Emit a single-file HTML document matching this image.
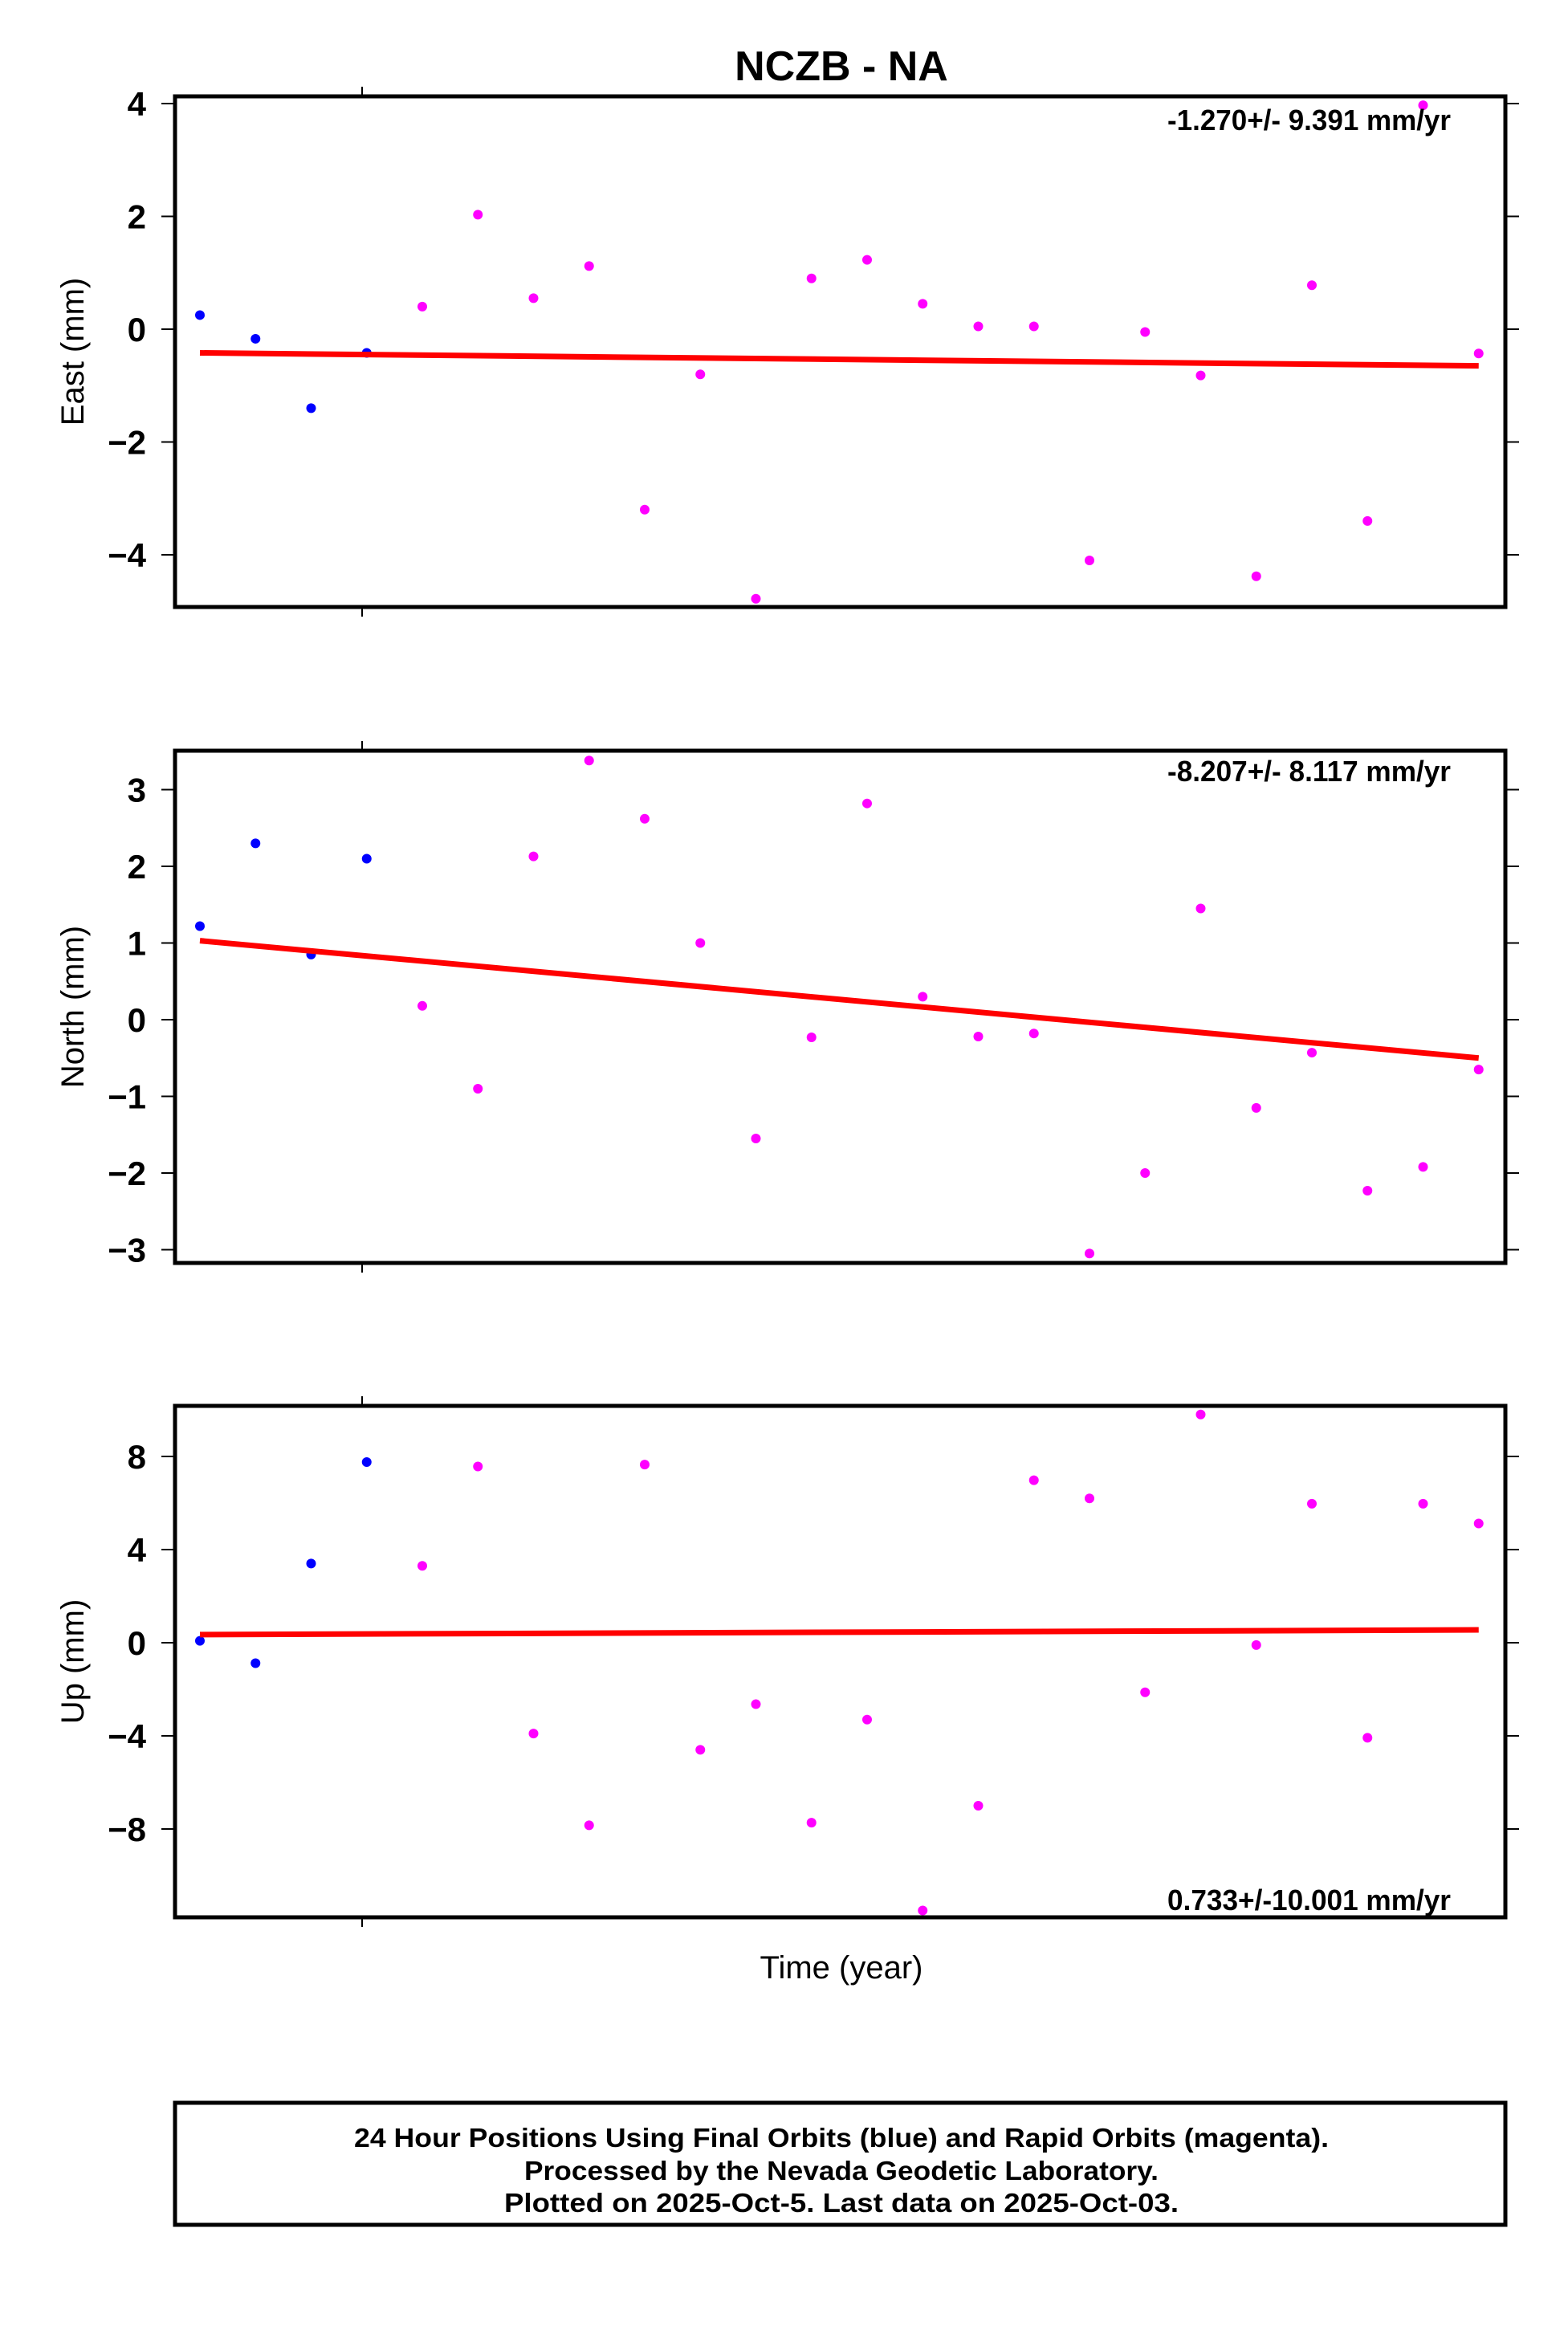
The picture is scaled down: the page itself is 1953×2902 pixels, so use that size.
<!DOCTYPE html>
<html><head><meta charset="utf-8"><style>html,body{margin:0;padding:0;background:#fff}svg{display:block}</style></head>
<body>
<svg xmlns="http://www.w3.org/2000/svg" width="1953" height="2902" viewBox="0 0 1953 2902" font-family="Liberation Sans, sans-serif">
<rect width="1953" height="2902" fill="#fff"/>
<text x="1048" y="100" font-size="52" font-weight="bold" text-anchor="middle">NCZB - NA</text>
<g id="plots"></g>
<text x="1048" y="2464" font-size="40" text-anchor="middle">Time (year)</text>
<rect x="218" y="2619" width="1657" height="152" fill="none" stroke="#000" stroke-width="5"/>
<text x="1048" y="2674" font-size="33" font-weight="bold" text-anchor="middle" textLength="1214" lengthAdjust="spacingAndGlyphs">24 Hour Positions Using Final Orbits (blue) and Rapid Orbits (magenta).</text>
<text x="1048" y="2715" font-size="33" font-weight="bold" text-anchor="middle" textLength="790" lengthAdjust="spacingAndGlyphs">Processed by the Nevada Geodetic Laboratory.</text>
<text x="1048" y="2755" font-size="33" font-weight="bold" text-anchor="middle" textLength="840" lengthAdjust="spacingAndGlyphs">Plotted on 2025-Oct-5. Last data on 2025-Oct-03.</text>
</svg>
<script>
(function(){
var ns="http://www.w3.org/2000/svg",g=document.getElementById("plots");
function el(t,a,txt){var e=document.createElementNS(ns,t);for(var k in a)e.setAttribute(k,a[k]);if(txt!==undefined)e.textContent=txt;g.appendChild(e);return e;}
var P=[
{top:120,bot:756,z:410,s:70.25,ticks:[4,2,0,-2,-4],lab:"East (mm)",
v:[0.25,-0.17,-1.4,-0.42,0.4,2.03,0.55,1.12,-3.2,-0.8,-4.78,0.9,1.23,0.45,0.05,0.05,-4.1,-0.05,-0.82,-4.38,0.78,-3.4,3.97,-0.43],
t:[-0.42,-0.65],rate:"-1.270+/- 9.391 mm/yr",ry:162},
{top:935,bot:1573,z:1270,s:95.5,ticks:[3,2,1,0,-1,-2,-3],lab:"North (mm)",
v:[1.22,2.3,0.85,2.1,0.18,-0.9,2.13,3.38,2.62,1.0,-1.55,-0.23,2.82,0.3,-0.22,-0.18,-3.05,-2.0,1.45,-1.15,-0.43,-2.23,-1.92,-0.65],
t:[1.03,-0.5],rate:"-8.207+/- 8.117 mm/yr",ry:973},
{top:1751,bot:2388,z:2046,s:29,ticks:[8,4,0,-4,-8],lab:"Up (mm)",
v:[0.08,-0.88,3.4,7.76,3.3,7.57,-3.9,-7.84,7.65,-4.6,-2.64,-7.73,-3.3,-11.5,-7.0,6.98,6.2,-2.13,9.8,-0.1,5.97,-4.08,5.97,5.12],
t:[0.35,0.55],rate:"0.733+/-10.001 mm/yr",ry:2379}];
var L=218,R=1875,dx=69.25,x0=249,x1=x0+23*dx;
P.forEach(function(p){
 p.ticks.forEach(function(t){var y=p.z-p.s*t;
  el("line",{x1:L-17,y1:y,x2:L,y2:y,stroke:"#000","stroke-width":2});
  el("line",{x1:R,y1:y,x2:R+17,y2:y,stroke:"#000","stroke-width":2});
  el("text",{x:182,y:y+15,"font-size":42,"font-weight":"bold","text-anchor":"end"},(t<0?"\u2212"+(-t):""+t));
 });
 el("line",{x1:451,y1:p.top-12,x2:451,y2:p.top,stroke:"#000","stroke-width":2});
 el("line",{x1:451,y1:p.bot,x2:451,y2:p.bot+12,stroke:"#000","stroke-width":2});
 var cy=(p.top+p.bot)/2;
 el("text",{x:0,y:0,"font-size":40,"text-anchor":"middle",transform:"translate(104,"+cy+") rotate(-90)"},p.lab);
 p.v.forEach(function(v,i){var x=x0+i*dx,y=p.z-p.s*v;
  if(y<p.top||y>p.bot)return;
  el("circle",{cx:x,cy:y,r:6,fill:i<4?"#0000ff":"#ff00ff"});
 });
 el("line",{x1:x0,y1:p.z-p.s*p.t[0],x2:x1,y2:p.z-p.s*p.t[1],stroke:"#ff0000","stroke-width":7});
 el("rect",{x:L,y:p.top,width:R-L,height:p.bot-p.top,fill:"none",stroke:"#000","stroke-width":5});
 el("text",{x:1807,y:p.ry,"font-size":36,"font-weight":"bold","text-anchor":"end",textLength:353,lengthAdjust:"spacingAndGlyphs"},p.rate);
});
})();
</script>
</body></html>
